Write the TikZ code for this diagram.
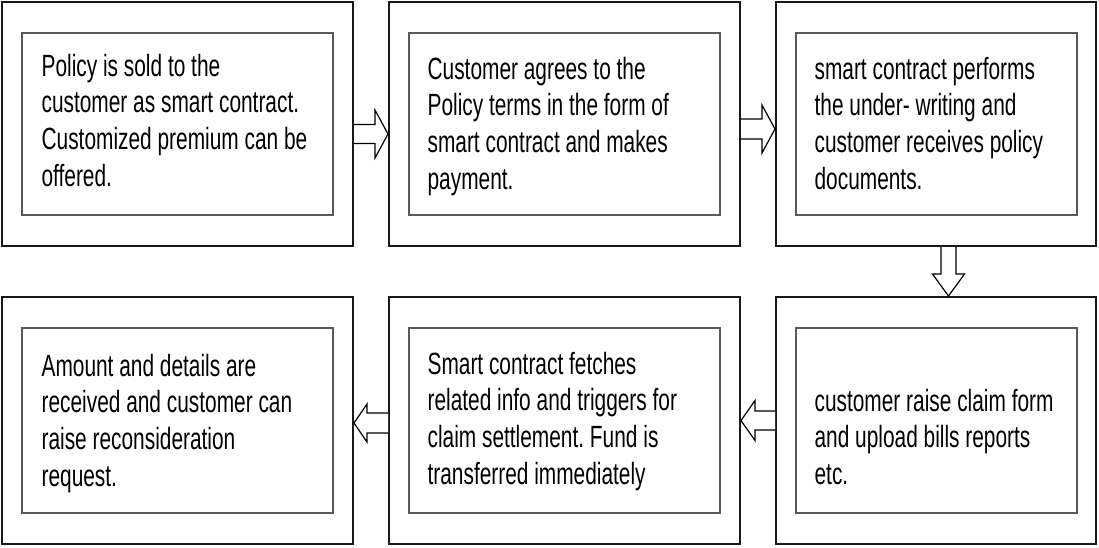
\documentclass[tikz,border=0pt]{standalone}
\usepackage{fontspec}
\setmainfont[FakeStretch=0.68]{Liberation Sans}
\usetikzlibrary{fit,calc}

\newcommand{\stepfont}{\fontsize{15.35}{18.35}\selectfont\frenchspacing\spaceskip=2.9pt\relax}

\begin{document}
\begin{tikzpicture}[x=0.5pt,y=-0.5pt,
		outerbox/.style={draw=black!90,line width=1pt,inner sep=0pt},
		innerbox/.style={draw=black!65,line width=0.8pt,inner sep=0pt},
		steptext/.style={anchor=base west,inner sep=0pt,text width=150pt,align=flush left,font=\stepfont},
		blockarrow/.style={draw=black,line width=0.6pt,fill=white,line join=miter}]

		\useasboundingbox (0,0) rectangle (1099,547);

		% outer frames
		\node[outerbox,fit={(2,2) (353,246)}] (o1) {};
		\node[outerbox,fit={(389,2) (740,246)}] (o2) {};
		\node[outerbox,fit={(776,2) (1096,246)}] (o3) {};
		\node[outerbox,fit={(2,297) (353,544)}] (o4) {};
		\node[outerbox,fit={(389,297) (740,544)}] (o5) {};
		\node[outerbox,fit={(776,297) (1096,544)}] (o6) {};

		% inner frames
		\node[innerbox,fit={(22,33) (333,215)}] (i1) {};
		\node[innerbox,fit={(409,33) (720,215)}] (i2) {};
		\node[innerbox,fit={(796,33) (1077,215)}] (i3) {};
		\node[innerbox,fit={(22,328) (333,513)}] (i4) {};
		\node[innerbox,fit={(409,328) (720,513)}] (i5) {};
		\node[innerbox,fit={(796,328) (1077,513)}] (i6) {};

		% texts
		\node[steptext] (t1) at ($(i1.north west)+(20,44)$) {Policy is sold to the\\customer as smart contract.\\Customized premium can be\\offered.};
		\node[steptext] (t2) at ($(i2.north west)+(19,47)$) {Customer agrees to the\\Policy terms in the form of\\smart contract and makes\\payment.};
		\node[steptext] (t3) at ($(i3.north west)+(19,47)$) {smart contract performs\\the under- writing and\\customer receives policy\\documents.};
		\node[steptext] (t4) at ($(i4.north west)+(20,49)$) {Amount and details are\\received and customer can\\raise reconsideration\\request.};
		\node[steptext] (t5) at ($(i5.north west)+(19,47)$) {Smart contract fetches\\related info and triggers for\\claim settlement. Fund is\\transferred immediately};
		\node[steptext] (t6) at ($(i6.north west)+(19,84)$) {customer raise claim form\\and upload bills reports\\etc.};

		% block arrows
		\coordinate (a1) at ($(o1.east)+(0,10)$);
		\coordinate (b1) at ($(o2.west)+(0,10)$);
		\draw[blockarrow] ($(a1)+(0,-9.5)$) -- ($(b1)+(-13,-9.5)$) -- ($(b1)+(-13,-24)$) -- (b1)
			-- ($(b1)+(-13,24)$) -- ($(b1)+(-13,9.5)$) -- ($(a1)+(0,9.5)$);

		\coordinate (a2) at ($(o2.east)+(0,5)$);
		\coordinate (b2) at ($(o3.west)+(0,5)$);
		\draw[blockarrow] ($(a2)+(0,-10)$) -- ($(b2)+(-13,-10)$) -- ($(b2)+(-13,-24)$) -- (b2)
			-- ($(b2)+(-13,24)$) -- ($(b2)+(-13,10)$) -- ($(a2)+(0,10)$);

		\coordinate (a3) at ($(o3.south)+(12.5,0)$);
		\coordinate (b3) at ($(o6.north)+(12.5,0)$);
		\draw[blockarrow] ($(a3)+(-7.5,0)$) -- ($(b3)+(-7.5,-22)$) -- ($(b3)+(-16,-22)$) -- (b3)
			-- ($(b3)+(16,-22)$) -- ($(b3)+(7.5,-22)$) -- ($(a3)+(7.5,0)$);

		\coordinate (a4) at (o6.west);
		\coordinate (b4) at (o5.east);
		\draw[blockarrow] ($(a4)+(0,-9.5)$) -- ($(b4)+(14,-9.5)$) -- ($(b4)+(14,-20)$) -- (b4)
			-- ($(b4)+(14,20)$) -- ($(b4)+(14,9.5)$) -- ($(a4)+(0,9.5)$);

		\coordinate (a5) at ($(o5.west)+(0,2.5)$);
		\coordinate (b5) at ($(o4.east)+(0,2.5)$);
		\draw[blockarrow] ($(a5)+(0,-10)$) -- ($(b5)+(13,-10)$) -- ($(b5)+(13,-19)$) -- (b5)
			-- ($(b5)+(13,19)$) -- ($(b5)+(13,10)$) -- ($(a5)+(0,10)$);
	\end{tikzpicture}
\end{document}
